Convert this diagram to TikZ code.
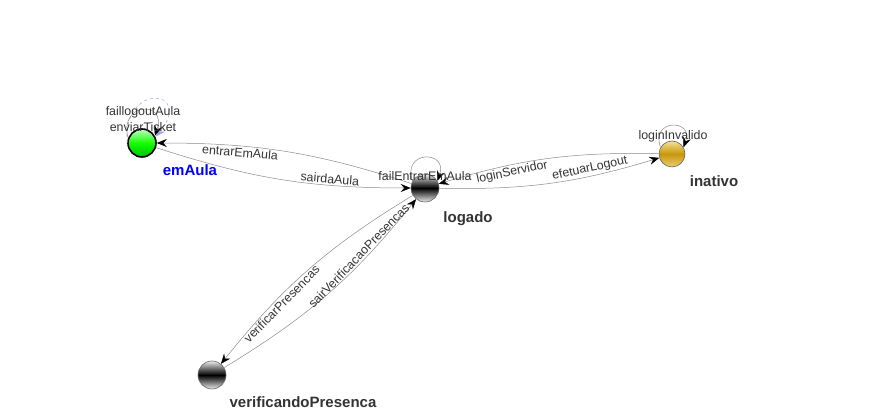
\documentclass[tikz,border=0pt]{standalone}
\usepackage{fontspec}
\setmainfont{Liberation Sans}
\usetikzlibrary{arrows.meta,shadings}
\definecolor{edgegray}{HTML}{8A8A8A}
\definecolor{lav}{HTML}{A0A0E0}
\definecolor{txtdark}{HTML}{333333}
\begin{document}
\begin{tikzpicture}[x=1pt,y=1pt,
  state/.style={circle,minimum size=28pt,inner sep=0pt},
  grayst/.style={state,draw=gray!80!black,line width=0.6pt,top color=gray!15,bottom color=gray!15,middle color=black},
  greenst/.style={state,draw=black,line width=1.6pt,top color=green!25,bottom color=green!75!black,middle color=green!90!lime},
  goldst/.style={state,draw=gray!80!black,line width=0.6pt,minimum size=26pt,top color={rgb,255:red,245;green,225;blue,150},bottom color={rgb,255:red,235;green,205;blue,120},middle color={rgb,255:red,200;green,150;blue,10}},
  edge/.style={draw=edgegray,line width=0.5pt,-{Stealth[length=10pt,width=8pt,inset=3.5pt,black]}},
  elab/.style={font=\fontsize{12.4}{14}\selectfont,text=txtdark,inner sep=1.5pt},
  nlab/.style={font=\fontsize{15}{17}\selectfont\bfseries,text=txtdark},
]
\useasboundingbox (0,0) rectangle (894,420);
% states
\node[greenst] (emAula) at (142,277) {};
\node[grayst] (logado) at (425,232) {};
\node[goldst] (inativo) at (672,266) {};
\node[grayst] (verif) at (212,45) {};
% state labels
\node[nlab,text=blue] (emAulaLbl) at (190,250) {emAula};
\node[nlab] (logadoLbl) at (468,201) {logado};
\node[nlab] (inativoLbl) at (714,239) {inativo};
\node[nlab] (verifLbl) at (303,18) {verificandoPresenca};
% transitions
\draw[edge] (logado) to[bend right=9] node[elab,sloped,pos=0.69,below]{entrarEmAula} (emAula);
\draw[edge] (emAula) to[bend right=9] node[elab,sloped,pos=0.7,above]{sairdaAula} (logado);
\draw[edge] (inativo) to[bend right=9] node[elab,sloped,pos=0.68,below]{loginServidor} (logado);
\draw[edge] (logado) to[bend right=9] node[elab,sloped,pos=0.7,above]{efetuarLogout} (inativo);
\draw[edge] (logado) to[bend right=10] node[elab,sloped,pos=0.68,below]{verificarPresencas} (verif);
\draw[edge] (verif) to[bend right=10] node[elab,sloped,pos=0.7,above]{sairVerificacaoPresencas} (logado);
% self loops
\draw[edge,draw=lav,dashed,-{Stealth[length=10pt,width=8pt,inset=3.5pt,lav]}] (emAula.180) to[out=95,in=50,looseness=5.5] (emAula.25);
\draw[edge] (emAula.160) to[out=105,in=70,looseness=3.6] (emAula.30);
\draw[edge] (logado.150) to[out=110,in=70,looseness=3.4] (logado.30);
\draw[edge] (inativo.150) to[out=110,in=70,looseness=3.4] (inativo.30);
% loop labels
\node[elab] (l1) at (143,308) {faillogoutAula};
\node[elab] (l2) at (143,293) {enviarTicket};
\node[elab] (l3) at (425,244) {failEntrarEmAula};
\node[elab] (l4) at (673,284) {loginInvalido};
\end{tikzpicture}
\end{document}
